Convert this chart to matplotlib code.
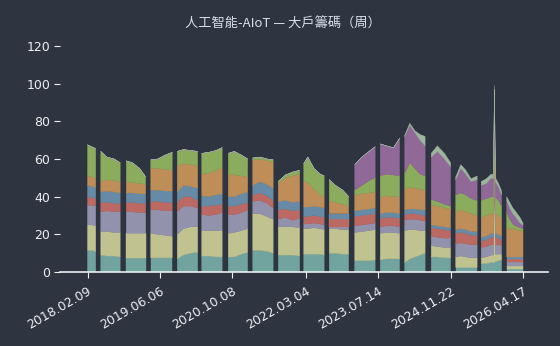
import numpy as np
import matplotlib
matplotlib.use("Agg")
import matplotlib.pyplot as plt
from matplotlib.colors import to_rgb

nan = np.nan

# week index of each sample; NaN rows mark the breaks between blocks
weeks = [0, 4, 8, 10,
         13, 19, 26, 32, 35,
         38, 44, 51, 57, 60,
         62, 69, 76, 83, 85,
         88, 94, 101, 108, 110,
         112, 119, 126, 132, 135,
         138, 144, 151, 157, 160,
         162, 169, 176, 182, 184,
         187, 194, 201, 208, 210,
         212, 216, 222, 228, 232, 234,
         237, 243, 250, 256, 259,
         262, 269, 276, 282, 284,
         287, 293, 300, 306, 308,
         311, 316, 321, 326, 331, 334,
         337, 343, 350, 356, 358,
         361, 366, 371, 376, 382, 384,
         386, 391, 396, 398, 399, 400, 403, 406, 408,
         411, 414, 417, 420, 424, 427]

s1 = [11.5, 11.5, 11, nan,
      9, 8.5, 8.5, 8, nan,
      7.5, 7.5, 7.5, 7.5, nan,
      7.5, 7.5, 7.5, 7.5, nan,
      7, 9, 10, 10.5, nan,
      8.5, 8.5, 8, 8, nan,
      8, 8, 9.5, 10.5, nan,
      11.5, 11.5, 11, 10, nan,
      9, 9, 9, 8.5, nan,
      9.5, 9.5, 9.5, 9.5, 9, nan,
      10, 10, 9.5, 9.5, nan,
      6, 6, 6, 6.5, nan,
      6.5, 7, 7, 7, nan,
      5, 7, 8, 9, 10, nan,
      8, 8, 7.5, 7.5, nan,
      2.5, 2.5, 2.5, 2.5, 2.5, nan,
      4.5, 4.5, 5, 5, 5, 5.5, 6, 6.5, nan,
      1.5, 1.5, 1.5, 1.5, 1.5, 1.5]
s2 = [13.5, 13.5, 13.5, nan,
      12.5, 13, 12.5, 13, nan,
      13, 13, 13, 13, nan,
      13, 12.5, 12, 11.5, nan,
      13, 14, 14, 13.5, nan,
      13.5, 13.5, 14, 14, nan,
      12.5, 13, 12.5, 12.5, nan,
      19.5, 19.5, 18.5, 18, nan,
      15, 15, 15, 15, nan,
      13.5, 13.5, 14, 13.5, 13.5, nan,
      13, 13, 13, 13, nan,
      15, 15.5, 16, 16, nan,
      14, 14, 14, 13.5, nan,
      17, 15.5, 14.5, 13, 12, nan,
      6, 5.5, 5.5, 5.5, nan,
      5.5, 6, 5.5, 5, 5, nan,
      3, 3.5, 4, 4, 51, 4, 3.5, 3, nan,
      1.5, 1.5, 1.5, 1.5, 1.5, 1.5]
s3 = [10.5, 10.5, 10.5, nan,
      10.5, 11, 11, 11, nan,
      11.5, 11.5, 11, 11, nan,
      12.5, 13, 13, 13.5, nan,
      12, 12, 11, 10, nan,
      8.5, 8, 8.5, 9.5, nan,
      10, 9.5, 9.5, 10, nan,
      6.5, 7, 7, 6, nan,
      4, 5, 3.5, 5, nan,
      2.5, 2.5, 2.5, 2.5, 2.5, nan,
      1, 1, 1.5, 1.5, nan,
      3.5, 3.5, 3.5, 3.5, nan,
      3.5, 3.5, 3.5, 3.5, nan,
      5.5, 5.5, 5.5, 5.5, 5, nan,
      5, 5, 5, 5, nan,
      7, 7, 7, 7, 7, nan,
      5.5, 5.5, 5.5, 5.5, 5.5, 5, 5, 4.5, nan,
      2.5, 2.5, 2.5, 2.5, 2.5, 2.5]
s4 = [4.5, 4, 4, nan,
      5, 4.5, 4.5, 4.5, nan,
      5, 5, 5, 5, nan,
      4.5, 4.5, 4.5, 4.5, nan,
      5, 5, 5, 4, nan,
      4.5, 5, 5, 4.5, nan,
      4.5, 4.5, 4.5, 4, nan,
      3.5, 4, 4, 4, nan,
      5, 4.5, 5, 4.5, nan,
      4, 4, 4, 4, 4, nan,
      4, 4, 4, 4, nan,
      5, 5, 5, 5, nan,
      4.5, 4.5, 4.5, 4.5, nan,
      3, 3, 3, 3, 3, nan,
      4.5, 4.5, 4.5, 4, nan,
      5.5, 5.5, 5.5, 5, 5, nan,
      3.5, 3.5, 4, 4, 4, 4, 3.5, 3, nan,
      1.5, 1.5, 1.5, 1.5, 1.5, 1.5]
s5 = [6, 6, 6, nan,
      5.5, 6, 6, 5.5, nan,
      5, 5, 5, 5, nan,
      6, 6, 6, 6, nan,
      5.5, 6, 5.5, 6.5, nan,
      5.5, 5, 5.5, 5.5, nan,
      5, 5, 5.5, 5.5, nan,
      5, 6, 6, 6.5, nan,
      4.5, 4.5, 4.5, 4.5, nan,
      5, 5, 5, 5, 5, nan,
      3, 3, 3, 3, nan,
      3, 3, 3, 3, nan,
      2.5, 2.5, 2.5, 2.5, nan,
      2.5, 2.5, 2.5, 2.5, 3, nan,
      1.5, 1.5, 1.5, 1.5, nan,
      2, 2, 2, 2, 2, nan,
      2, 2, 2, 2, 2, 2, 2, 2, nan,
      1, 1, 1, 1, 1, 1]
s6 = [5, 5, 5, nan,
      5.5, 6, 6, 6, nan,
      6, 5.5, 5.5, 5, nan,
      11.5, 11.5, 11.5, 11, nan,
      14, 11.5, 11.5, 12, nan,
      11.5, 12.5, 13, 14, nan,
      12, 11.5, 9.5, 8, nan,
      13.5, 12, 12.5, 14, nan,
      9.5, 12, 14, 14.5, nan,
      14, 13, 9, 6.5, 6, nan,
      7, 6, 5, 4, nan,
      8.5, 8.5, 8.5, 8.5, nan,
      9, 9, 8.5, 9, nan,
      11, 11.5, 11, 11, 10.5, nan,
      10.5, 10.5, 10, 10, nan,
      9.5, 10, 9.5, 9.5, 8.5, nan,
      10.5, 11, 10.5, 10.5, 10.5, 10.5, 10, 9, nan,
      15, 15, 15, 14.5, 14, 14]
s7 = [16.5, 16, 15.5, nan,
      16, 12, 11.5, 10, nan,
      11, 10.5, 8, 4, nan,
      4.5, 5, 7.5, 9.5, nan,
      7.5, 7.5, 7.5, 7.5, nan,
      11, 11, 10.5, 10.5, nan,
      11, 12.5, 11, 9.5, nan,
      1, 1, 1, 1, nan,
      1, 1.5, 2, 2, nan,
      9, 13.5, 11, 11, 11, nan,
      11, 9, 7.5, 5, nan,
      2.5, 4.5, 6.5, 7.5, nan,
      11, 11.5, 11.5, 11, nan,
      8.5, 13, 10.5, 8, 7.5, nan,
      3, 2.5, 2, 1.5, nan,
      9, 9, 9, 8, 8, nan,
      9, 9, 9, 9, 9, 8.5, 8, 7, nan,
      9, 5, 2.5, 2, 1.5, 1]
s8 = [0, 0, 0, nan,
      0, 0, 0, 0, nan,
      0, 0, 0, 0, nan,
      0, 0, 0, 0, nan,
      0, 0, 0, 0, nan,
      0, 0, 0, 0, nan,
      0, 0, 0, 0, nan,
      0, 0, 0, 0, nan,
      0, 0, 0, 0, nan,
      0, 0, 0, 0, 0, nan,
      0, 0, 0, 0, nan,
      13.5, 15, 15.5, 16.5, nan,
      17, 15, 14.5, 20, nan,
      19.5, 20, 19, 18, 16, nan,
      22.5, 26.5, 24, 21, nan,
      8, 13, 11, 9, 11, nan,
      8, 8, 10, 9.5, 10, 8.5, 7, 6, nan,
      6, 6, 5.5, 4.5, 2.5, 2]
s9 = [0, 0, 0, nan,
      0, 0, 0, 0, nan,
      0, 0, 0, 0, nan,
      0, 0, 0, 0, nan,
      0, 0, 0, 0, nan,
      0, 0, 0, 0, nan,
      0, 0, 0, 0, nan,
      0, 0, 0, 0, nan,
      0, 0, 0, 0, nan,
      0, 0, 0, 0, 0, nan,
      0, 0, 0, 0, nan,
      0, 0, 0, 0, nan,
      0, 0, 0, 0, nan,
      0.5, 1, 1, 3, 5, nan,
      2, 3, 3, 2, nan,
      1.5, 2, 2, 1.5, 2, nan,
      2, 2.5, 2, 2, 2, 2, 2, 2, nan,
      2, 3, 3, 3, 3, 1]

tick_pos = [0, 71, 142, 214, 285, 356, 427]
tick_labels = ["2018.02.09", "2019.06.06", "2020.10.08", "2022.03.04",
               "2023.07.14", "2024.11.22", "2026.04.17"]

bg = "#2e3440"
palette = ["#8dd3c7", "#ffffb3", "#bebada", "#fb8072", "#80b1d3",
           "#fdb462", "#b3de69", "#bc80bd", "#ccebc5"]
# blend the set3 colours onto the dark background (alpha 0.7 look)
bgc = np.array(to_rgb(bg))
colors = [tuple(0.7 * np.array(to_rgb(c)) + 0.3 * bgc) for c in palette]

fig = plt.figure(figsize=(5.6, 3.46), dpi=100, facecolor=bg)
ax = fig.add_axes([60 / 560, 74 / 346, 488 / 560, 226 / 346], facecolor=bg)

layers = np.array([s1, s2, s3, s4, s5, s6, s7, s8, s9], dtype=float)
polys = ax.stackplot(np.array(weeks, dtype=float), layers, colors=colors,
                     linewidth=0.3)
for p, c in zip(polys, colors):
    p.set_edgecolor(c)

ax.set_xlim(-27, 451.5)
ax.set_ylim(0, 120)
ax.set_yticks([0, 20, 40, 60, 80, 100, 120])
ax.set_xticks(tick_pos)
ax.set_xticklabels(tick_labels, rotation=30, ha="right", rotation_mode="anchor")

for side in ["left", "right", "top"]:
    ax.spines[side].set_visible(False)
ax.spines["bottom"].set_color("#eceff4")
ax.spines["bottom"].set_linewidth(1.2)
ax.tick_params(axis="y", colors="#eceff4", labelsize=9, length=4, width=0.8, pad=3)
ax.tick_params(axis="x", colors="#eceff4", labelsize=9, length=4, width=0.8, pad=5)

fig.text(0.505, 0.93, "人工智能-AIoT — 大戶籌碼（周）", ha="center", va="center",
         fontsize=9.5, color="#d8dee9", family=["Noto Sans CJK TC", "DejaVu Sans"])

fig.savefig("out.png", dpi=100, facecolor=bg)
